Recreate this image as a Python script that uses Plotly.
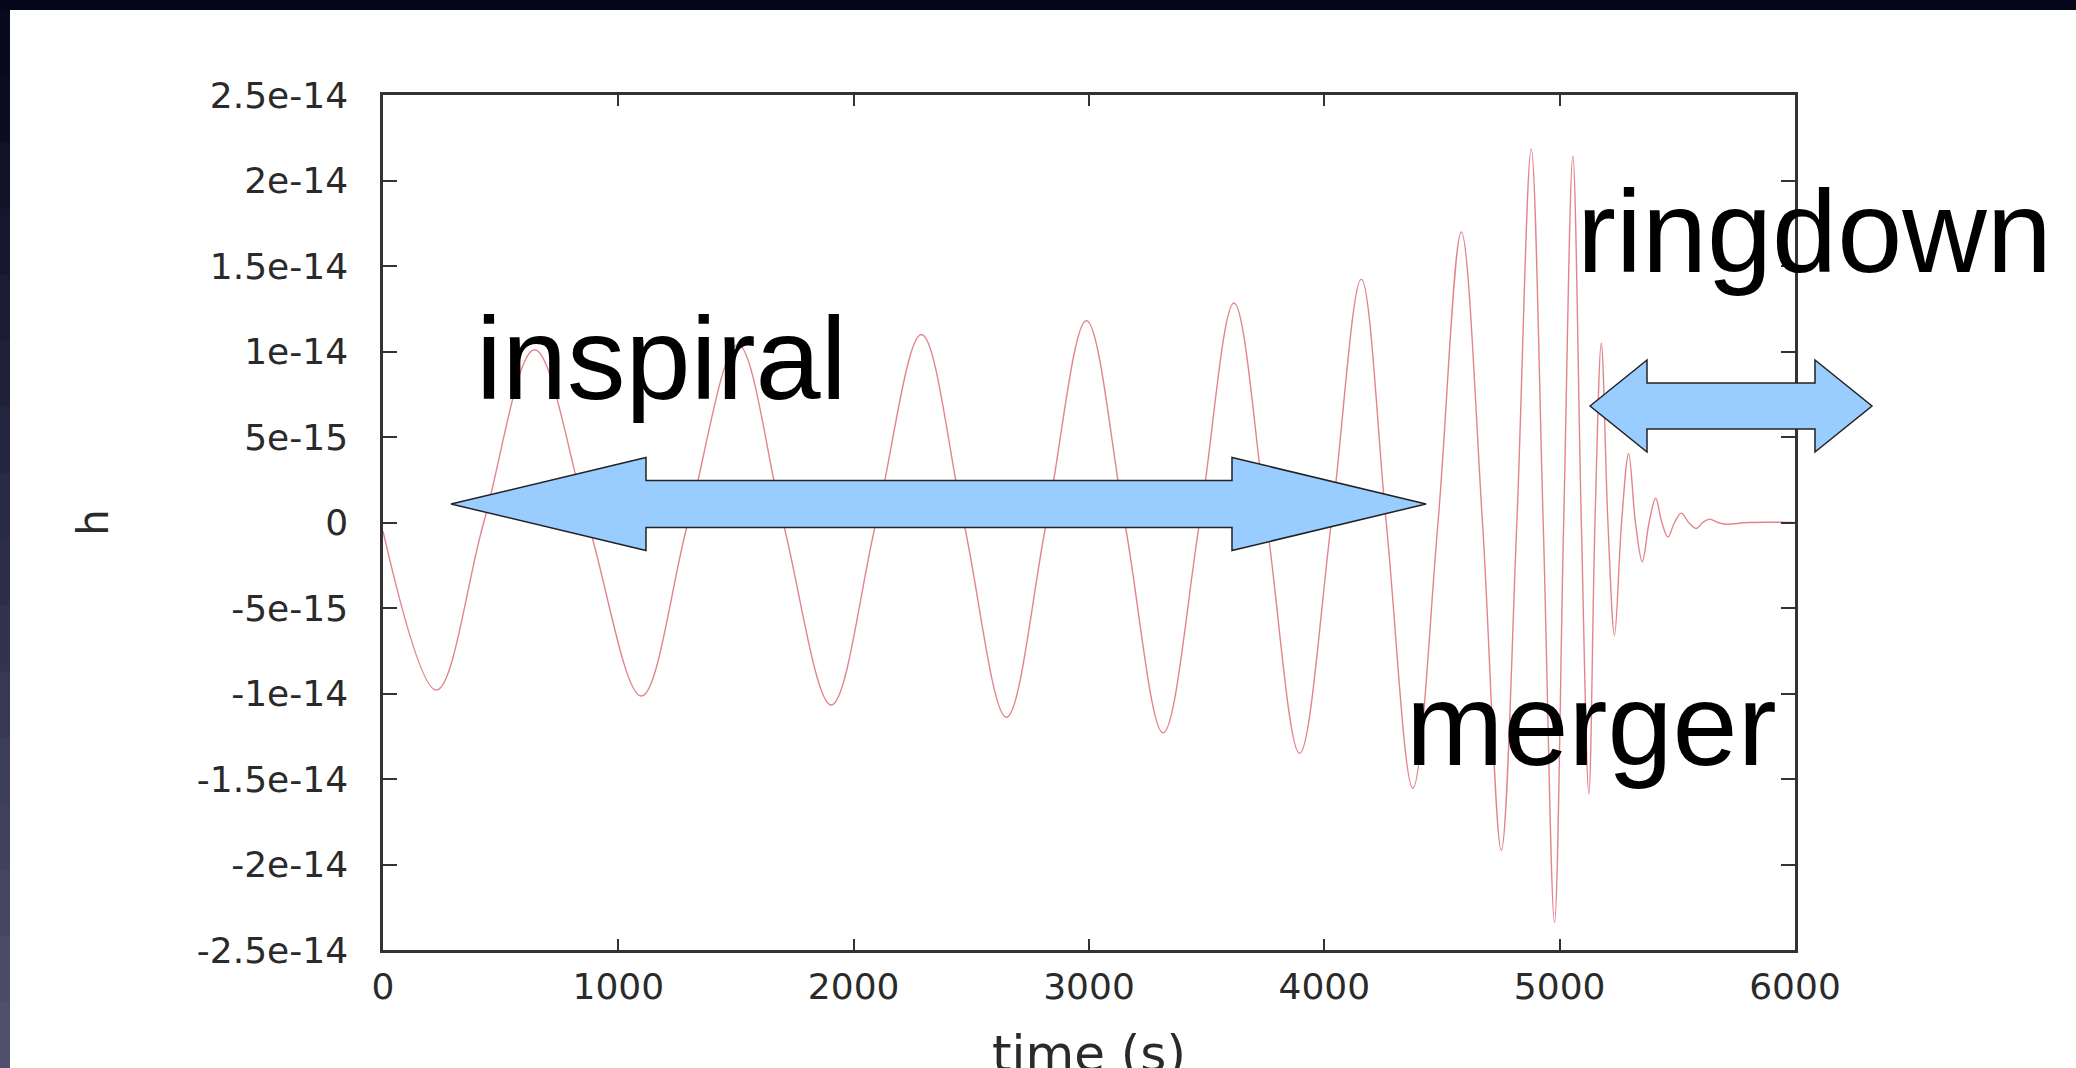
import plotly.graph_objects as go

# ---------------- data ----------------
# time samples (s) at extrema and zero crossings of the waveform
time_s = [0, 227, 428, 644, 871, 1098, 1296, 1508, 1700, 1905, 2095, 2288, 2468,
          2649, 2819, 2989, 3152, 3315, 3470, 3616, 3755, 3895, 4030, 4157, 4263,
          4376, 4483, 4582, 4672, 4752, 4818, 4879, 4930, 4978, 5017, 5056, 5092,
          5124, 5150, 5177, 5205, 5233, 5263, 5293, 5322, 5351, 5380, 5408, 5434,
          5460, 5488, 5517, 5548, 5580, 5608, 5637, 5672, 5708, 5800, 6000]
# strain h in units of 1e-14
h_e14 = [-0.05, -0.98, 0, 1.01, 0, -1.015, 0, 1.04, 0, -1.067, 0, 1.099, 0,
         -1.139, 0, 1.18, 0, -1.23, 0, 1.284, 0, -1.35, 0, 1.423, 0,
         -1.554, 0, 1.699, 0, -1.917, 0, 2.185, 0, -2.339, 0, 2.143, 0,
         -1.586, 0, 1.05, 0, -0.659, 0, 0.402, 0, -0.23, 0, 0.142, 0,
         -0.085, 0, 0.055, 0, -0.035, 0, 0.02, 0, -0.01, 0, 0]
h_vals = [v * 1e-14 for v in h_e14]

x_ticks = [0, 1000, 2000, 3000, 4000, 5000, 6000]
y_ticks = [2.5e-14, 2e-14, 1.5e-14, 1e-14, 5e-15, 0, -5e-15, -1e-14, -1.5e-14, -2e-14, -2.5e-14]
y_tick_text = ["2.5e-14", "2e-14", "1.5e-14", "1e-14", "5e-15", "0", "-5e-15",
               "-1e-14", "-1.5e-14", "-2e-14", "-2.5e-14"]

phase_labels = ["inspiral", "merger", "ringdown"]
x_title = "time (s)"
y_title = "h"

# ---------------- layout geometry ----------------
W, H = 2076, 1068
L, R, T, B = 383, 1795, 95, 950   # plot area in pixels


def px(xp):
    return (xp - L) / (R - L)


def py(yp):
    return (B - yp) / (B - T)


def double_arrow(x0, x1, xc0, xc1, yc, head_half, shaft_half):
    pts = [(x0, yc), (xc0, yc - head_half), (xc0, yc - shaft_half), (xc1, yc - shaft_half),
           (xc1, yc - head_half), (x1, yc), (xc1, yc + head_half), (xc1, yc + shaft_half),
           (xc0, yc + shaft_half), (xc0, yc + head_half)]
    return "M " + " L ".join(f"{px(a):.5f},{py(b):.5f}" for a, b in pts) + " Z"


fig = go.Figure()
fig.add_trace(go.Scatter(
    x=time_s, y=h_vals, mode="lines",
    line=dict(color="rgba(222,110,120,0.85)", width=1.4, shape="spline", smoothing=1.0),
    hoverinfo="skip", showlegend=False,
))

shapes = []
# dark slide border (top and left)
TOP_BAND, LEFT_BAND = 10, 10
shapes.append(dict(type="rect", xref="paper", yref="paper", x0=px(0), x1=px(W), y0=py(0), y1=py(TOP_BAND),
                   fillcolor="#05061a", line=dict(width=0), layer="above"))
n = 16
for i in range(n):
    f = i / (n - 1)
    r = int(8 + f * (80 - 8)); g = int(9 + f * (80 - 9)); b = int(30 + f * (110 - 30))
    y0p = TOP_BAND + (H - TOP_BAND) * i / n
    y1p = TOP_BAND + (H - TOP_BAND) * (i + 1) / n
    shapes.append(dict(type="rect", xref="paper", yref="paper", x0=px(0), x1=px(LEFT_BAND),
                       y0=py(y0p), y1=py(y1p + 1), fillcolor=f"rgb({r},{g},{b})",
                       line=dict(width=0), layer="above"))

shapes.append(dict(type="path", xref="paper", yref="paper",
                   path=double_arrow(451, 1426, 646, 1232, 504, 46.5, 23.5),
                   fillcolor="#99ccff", line=dict(color="#222222", width=1.5), layer="above"))
shapes.append(dict(type="path", xref="paper", yref="paper",
                   path=double_arrow(1590, 1872, 1647, 1815, 406, 46, 23),
                   fillcolor="#99ccff", line=dict(color="#222222", width=1.5), layer="above"))

big = dict(family="Liberation Sans, Arial, sans-serif", size=117, color="black")
annotations = [
    dict(text=phase_labels[0], x=px(475), y=py(400 + 24.6)),
    dict(text=phase_labels[1], x=px(1405), y=py(766 + 24.6)),
    dict(text=phase_labels[2], x=px(1576), y=py(273 + 24.6)),
]
for a in annotations:
    a.update(xref="paper", yref="paper", xanchor="left", yanchor="bottom",
             showarrow=False, font=big, borderpad=0)

# x-axis title sits partly below the visible page, as in the reference
annotations.append(dict(text=x_title, xref="paper", yref="paper", x=0.5, y=py(1072 + 12),
                        xanchor="center", yanchor="bottom", showarrow=False, borderpad=0,
                        font=dict(family="DejaVu Sans, sans-serif", size=50, color="#2a2a2a")))

tickfont = dict(family="DejaVu Sans, sans-serif", size=36, color="#2a2a2a")
fig.update_layout(
    width=W, height=H,
    margin=dict(l=L, r=W - R, t=T, b=H - B, autoexpand=False),
    paper_bgcolor="white", plot_bgcolor="white",
    shapes=shapes, annotations=annotations,
    xaxis=dict(range=[0, 6000], tickvals=x_ticks, ticks="inside", ticklen=11, tickwidth=2,
               tickcolor="#333", showline=True, linecolor="#333", linewidth=2.5, mirror="ticks",
               showgrid=False, zeroline=False, tickfont=tickfont, ticklabelstandoff=3,
               automargin=False),
    yaxis=dict(range=[-2.5e-14, 2.5e-14], tickvals=y_ticks, ticktext=y_tick_text, ticks="inside",
               ticklen=14, tickwidth=2, tickcolor="#333", showline=True, linecolor="#333",
               linewidth=2.5, mirror="ticks", showgrid=False, zeroline=False, tickfont=tickfont,
               ticklabelstandoff=25,
               title=dict(text=y_title, font=dict(family="DejaVu Sans, sans-serif", size=42,
                                                  color="#2a2a2a"), standoff=76),
               automargin=False),
)

fig.write_html("out.html", config={"displayModeBar": False},
               post_script="document.body.style.margin='0';document.body.style.overflow='hidden';")
